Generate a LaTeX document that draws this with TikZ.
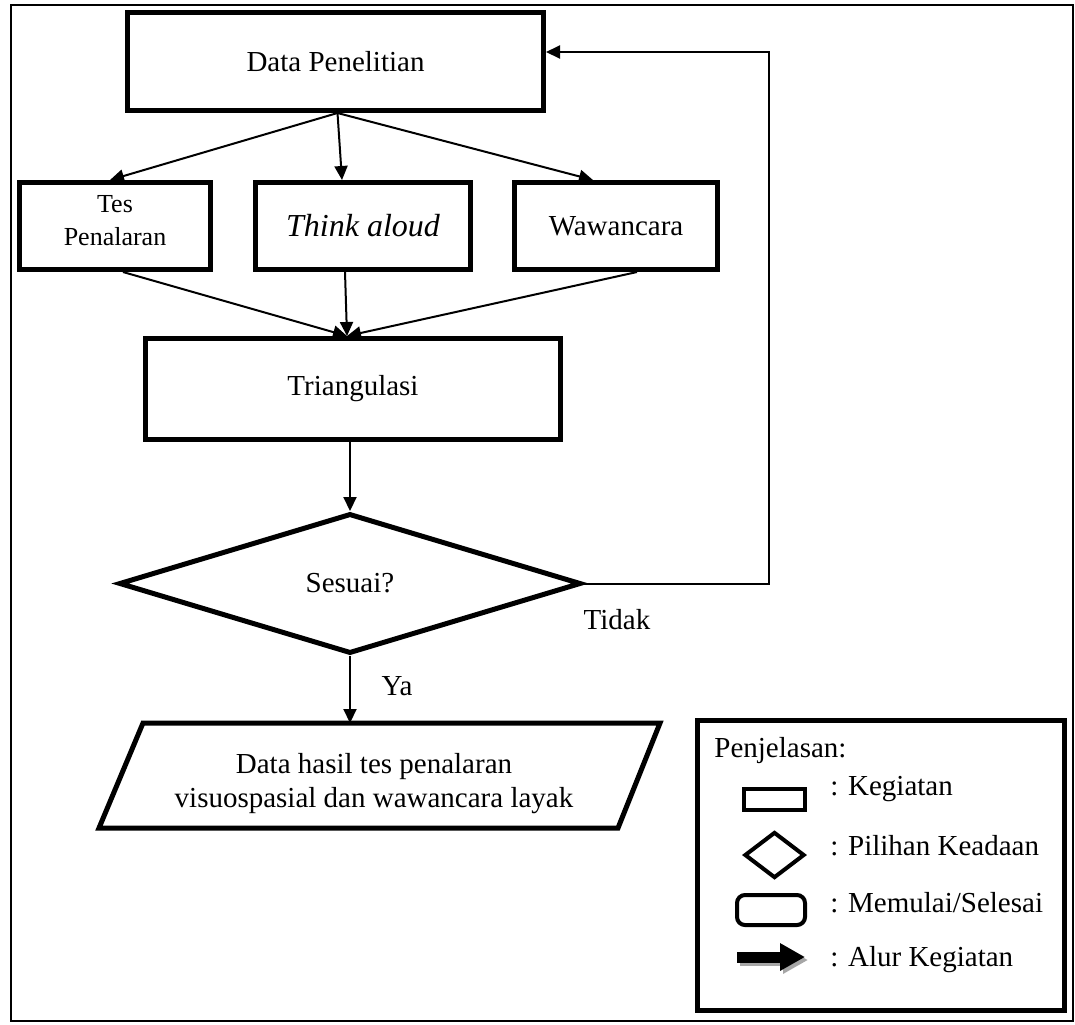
\documentclass[tikz,border=0pt]{standalone}
\usepackage{fontspec}
\setmainfont{Liberation Serif}
\usepackage{tikz}
\usetikzlibrary{calc}
\usetikzlibrary{arrows.meta}
\usetikzlibrary{shapes.geometric}
\tikzset{>={Triangle[length=7pt,width=6.5pt]}}
\tikzset{kotak/.style={draw,line width=2.5pt,inner sep=2pt,align=center,font=\fontsize{14.5}{17}\selectfont}}
\tikzset{alur/.style={->,line width=1pt}}
\tikzset{ket/.style={anchor=west,inner sep=0pt,font=\fontsize{14.5}{17}\selectfont}}

\begin{document}
\begin{tikzpicture}[x=0.5pt,y=-0.5pt]
			\useasboundingbox (0,0) rectangle (1075,1024);
			\draw[line width=1pt] (11,5) rectangle (1073,1021);
			% alur utama
			\node[kotak,minimum width=208pt,minimum height=49pt] (data) at (335.5,61.5) {Data Penelitian};
			\node[kotak,minimum width=95.5pt,minimum height=43.5pt] (tes) at (115,226) {};
			\node[align=center,font=\fontsize{13}{16.5}\selectfont] (testeks) at (115,221) {Tes\\Penalaran};
			\node[kotak,minimum width=107.5pt,minimum height=43.5pt,font=\fontsize{16}{19}\selectfont\itshape] (think) at (363,226) {Think aloud};
			\node[kotak,minimum width=101.5pt,minimum height=43.5pt] (wawan) at (616,226) {Wawancara};
			\node[kotak,minimum width=207.5pt,minimum height=50.5pt] (tri) at (353,389) {Triangulasi};
			\node[kotak,diamond,aspect=3.2,minimum width=231pt,minimum height=70pt] (cek) at (350,583.5) {Sesuai?};
			% jajar genjang hasil
			\coordinate (h1) at (143,723);
			\coordinate (h2) at (660,723);
			\coordinate (h3) at (618,828);
			\coordinate (h4) at (99,828);
			\draw[line width=2.5pt,line join=miter] (h1)--(h2)--(h3)--(h4)--cycle;
			\node[align=center,font=\fontsize{14.5}{17}\selectfont] (hasil) at (374,784) {Data hasil tes penalaran\\visuospasial dan wawancara layak};
			\coordinate (balik) at (769,52);
			\coordinate (temu) at ($(tri.north)+(-3pt,0)$);
			\draw[alur] ($(data.south)+(1pt,0)$)--([xshift=-2.5pt]tes.north);
			\draw[alur] ($(data.south)+(1pt,0)$)--([xshift=-10.5pt]think.north);
			\draw[alur] ($(data.south)+(1pt,0)$)--([xshift=-11.5pt]wawan.north);
			\draw[alur] ([xshift=4pt]tes.south)--(temu);
			\draw[alur] ([xshift=-9pt]think.south)--(temu);
			\draw[alur] ([xshift=10.5pt]wawan.south)--(temu);
			\draw[alur] (cek.north |- tri.south)--(cek.north);
			\draw[alur] (cek.south)--(cek.south |- h1) node[pos=0.45,right=12pt,font=\fontsize{14.5}{17}\selectfont]{Ya};
			\draw[alur] (cek.east)-|(balik)--(balik -| data.east);
			\node[font=\fontsize{14.5}{17}\selectfont] (tidak) at (617,620) {Tidak};
			% penjelasan
			\node[draw,line width=2.5pt,minimum width=183.5pt,minimum height=145pt] (legenda) at (881,865.5) {};
			\node[ket] (judul) at (714,751) {Penjelasan:};
			\node[draw,line width=2pt,inner sep=0pt,minimum width=30.5pt,minimum height=10.5pt] (ikon1) at (774.5,799.5) {};
			\node[draw,line width=2pt,diamond,inner sep=0pt,aspect=1.3,minimum width=30pt,minimum height=23pt] (ikon2) at (774.5,855) {};
			\node[draw,line width=2pt,rounded corners=4pt,inner sep=0pt,minimum width=34pt,minimum height=15pt] (ikon3) at (771,910) {};
			\coordinate (ikon4a) at (737,957);
			\coordinate (ikon4b) at (805,957);
			\draw[gray!70,line width=5.5pt,-{Triangle[length=12.5pt,width=13pt]}] ([xshift=1.5pt,yshift=-1.5pt]ikon4a)--([xshift=1.5pt,yshift=-1.5pt]ikon4b);
			\draw[line width=5.5pt,-{Triangle[length=12.5pt,width=13pt]}] (ikon4a)--(ikon4b);
			\node[ket] (ket1) at (830,789) {: Kegiatan};
			\node[ket] (ket2) at (830,846) {: Pilihan Keadaan};
			\node[ket] (ket3) at (830,903) {: Memulai/Selesai};
			\node[ket] (ket4) at (830,960) {: Alur Kegiatan};
		\end{tikzpicture}
\end{document}
